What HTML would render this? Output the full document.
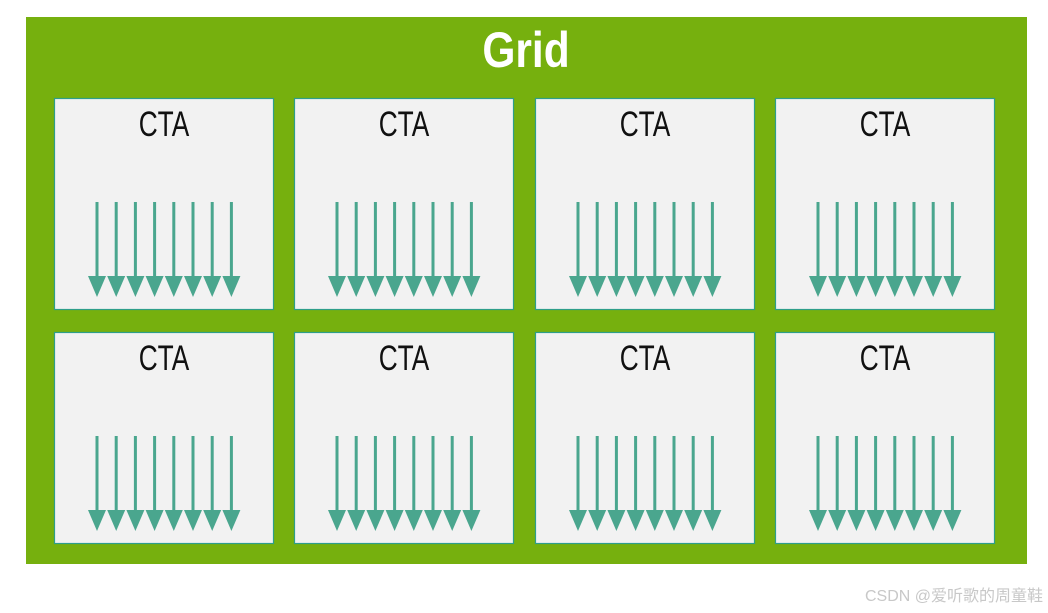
<!DOCTYPE html>
<html><head><meta charset="utf-8"><style>
html,body{margin:0;padding:0;background:#fff;width:1048px;height:613px;overflow:hidden}
</style></head><body>
<svg width="1048" height="613" xmlns="http://www.w3.org/2000/svg">
<defs>
<g id="arr">
<rect x="-1.5" y="202" width="3" height="78" fill="#4aa68e"/>
<polygon points="-9,276 9,276 0,297" fill="#4aa68e"/>
</g>
<g id="cta">
<rect x="0.5" y="0.5" width="219" height="211" fill="#f2f2f2" stroke="#2e9e8a" stroke-width="1.2"/>
<text x="110" y="38" text-anchor="middle" font-family="Liberation Sans, sans-serif" font-size="35" fill="#111" transform="translate(27.5,0) scale(0.75,1)" >CTA</text>
</g>
<g id="arrows">
<use href="#arr" x="43"/><use href="#arr" x="62.2"/><use href="#arr" x="81.4"/><use href="#arr" x="100.6"/>
<use href="#arr" x="119.8"/><use href="#arr" x="139"/><use href="#arr" x="158.2"/><use href="#arr" x="177.4"/>
</g>
</defs>
<rect x="26" y="17" width="1001" height="547" fill="#76b00e"/>
<text x="526" y="67" text-anchor="middle" font-family="Liberation Sans, sans-serif" font-weight="bold" font-size="50" fill="#fff" transform="translate(78.9,0) scale(0.85,1)">Grid</text>
<g transform="translate(54,98)"><use href="#cta"/><use href="#arrows" y="-98"/></g>
<g transform="translate(294,98)"><use href="#cta"/><use href="#arrows" y="-98"/></g>
<g transform="translate(535,98)"><use href="#cta"/><use href="#arrows" y="-98"/></g>
<g transform="translate(775,98)"><use href="#cta"/><use href="#arrows" y="-98"/></g>
<g transform="translate(54,332)"><use href="#cta"/><use href="#arrows" y="-98"/></g>
<g transform="translate(294,332)"><use href="#cta"/><use href="#arrows" y="-98"/></g>
<g transform="translate(535,332)"><use href="#cta"/><use href="#arrows" y="-98"/></g>
<g transform="translate(775,332)"><use href="#cta"/><use href="#arrows" y="-98"/></g>
<text x="1043" y="601" text-anchor="end" font-family="Liberation Sans, Noto Sans CJK SC, sans-serif" font-size="16" fill="#c8c8c8">CSDN @爱听歌的周童鞋</text>
</svg>
</body></html>
